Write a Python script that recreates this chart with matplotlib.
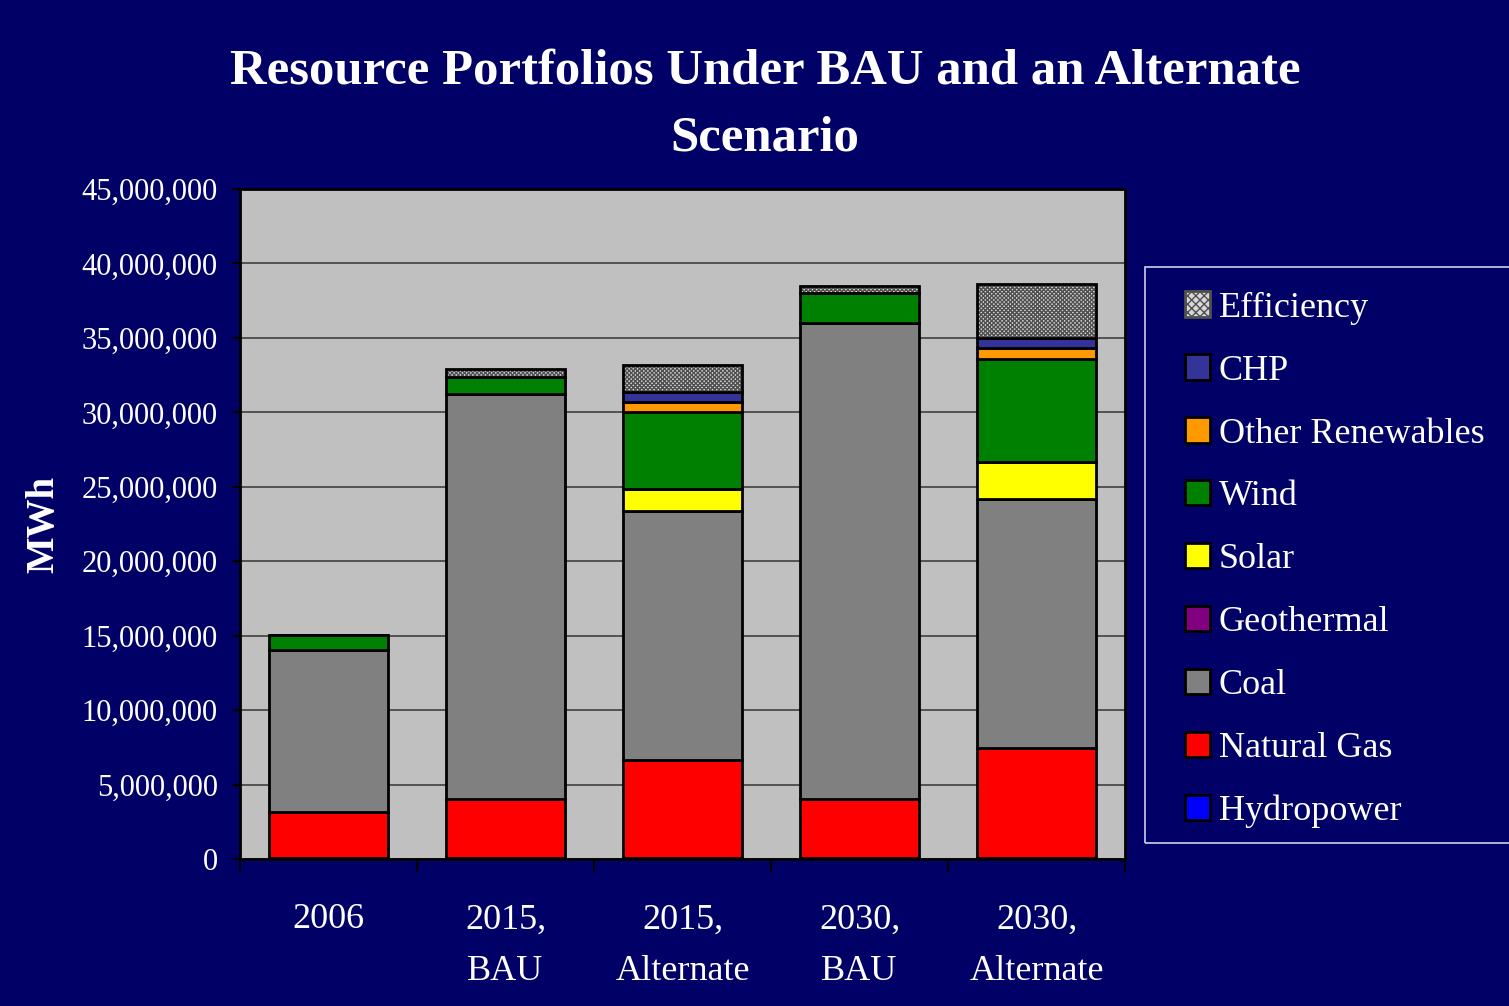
import matplotlib.pyplot as plt
from matplotlib.patches import Rectangle, Patch
from matplotlib.ticker import FuncFormatter
import numpy as np

# data (MWh)
scenarios = ['2006', '2015,\nBAU', '2015,\nAlternate', '2030,\nBAU', '2030,\nAlternate']
hydropower = [60000, 60000, 60000, 60000, 60000]
natural_gas = [3100000, 3970000, 6590000, 3970000, 7390000]
coal = [10880000, 27170000, 16700000, 31970000, 16750000]
geothermal = [0, 0, 0, 0, 0]
solar = [0, 0, 1500000, 0, 2450000]
wind = [1000000, 1200000, 5200000, 2000000, 6900000]
other_renewables = [0, 0, 650000, 0, 800000]
chp = [0, 0, 650000, 0, 650000]
efficiency = [0, 500000, 1850000, 500000, 3650000]

series = [
    ('Hydropower', hydropower, '#0000FF'),
    ('Natural Gas', natural_gas, '#FF0000'),
    ('Coal', coal, '#808080'),
    ('Geothermal', geothermal, '#800080'),
    ('Solar', solar, '#FFFF00'),
    ('Wind', wind, '#008000'),
    ('Other Renewables', other_renewables, '#FF9900'),
    ('CHP', chp, '#333399'),
    ('Efficiency', efficiency, '#C8C8C8'),
]

navy = '#000066'
serif = ['Liberation Serif', 'DejaVu Serif']
plt.rcParams['font.family'] = serif
plt.rcParams['hatch.linewidth'] = 1.0
hatch = 'xxxxxxxx'

fig = plt.figure(figsize=(15.09, 10.06), dpi=100, facecolor=navy)
ax = fig.add_axes([240/1509, 1-859/1006, 885/1509, 670/1006])
ax.set_facecolor('#C0C0C0')

x = np.arange(len(scenarios))
bottom = np.zeros(len(scenarios))
handles = []
for name, vals, color in series:
    vals = np.array(vals, dtype=float)
    if name == 'Efficiency':
        ax.bar(x, vals, 0.667, bottom=bottom, color='#D8D8D8', edgecolor='#505050',
               hatch=hatch, linewidth=0, zorder=3)
        ax.bar(x, vals, 0.667, bottom=bottom, fill=False, edgecolor='black',
               linewidth=2, zorder=4)
        h = Patch(facecolor='#D8D8D8', edgecolor='#505050', hatch='xxxx', linewidth=2)
    else:
        ax.bar(x, vals, 0.667, bottom=bottom, color=color, edgecolor='black',
               linewidth=2, zorder=3)
        h = Patch(facecolor=color, edgecolor='black', linewidth=2)
    handles.append((name, h))
    bottom += vals

ax.set_xlim(-0.5, 4.5)
ax.set_ylim(0, 45000000)
ax.set_yticks(np.arange(0, 45000001, 5000000))
ax.yaxis.set_major_formatter(FuncFormatter(lambda v, p: f'{int(v):,}'))
ax.grid(axis='y', color='#404040', linewidth=1.2, zorder=1)
ax.set_axisbelow(True)

ax.set_xticks(x)
ax.set_xticklabels(scenarios, linespacing=1.75)
ax.set_xticks(np.arange(-0.5, 5, 1), minor=True)
ax.tick_params(axis='x', which='major', length=0, pad=32, labelsize=26, colors='white')
ax.tick_params(axis='x', which='minor', length=9, width=1.5, color='black', direction='out')
ax.tick_params(axis='y', length=6, width=1.5, color='black', labelsize=22,
               labelcolor='white', pad=10)
for s in ax.spines.values():
    s.set_color('black')
    s.set_linewidth(2)

ax.set_ylabel('MWh', fontsize=28, fontweight='bold', color='white', labelpad=14)

fig.text(765/1509, 1-105/1006, 'Resource Portfolios Under BAU and an Alternate\nScenario',
         ha='center', va='center', fontsize=36.5, fontweight='bold', color='white',
         linespacing=1.6)

# legend box runs off the right edge, like the original
fig.add_artist(Rectangle((1145/1509, 1-843/1006), 400/1509, 576/1006,
                         transform=fig.transFigure, facecolor='none',
                         edgecolor='#D0D0F0', linewidth=1.2))
handles = handles[::-1]
leg = fig.legend([h for _, h in handles], [n for n, _ in handles],
                 loc='upper left', bbox_to_anchor=(1152/1509, 1-259/1006),
                 frameon=False, fontsize=26, labelcolor='white',
                 handlelength=0.7, handleheight=0.7, handletextpad=0.25,
                 labelspacing=0.82)

fig.savefig('out.png', dpi=100, facecolor=navy)
